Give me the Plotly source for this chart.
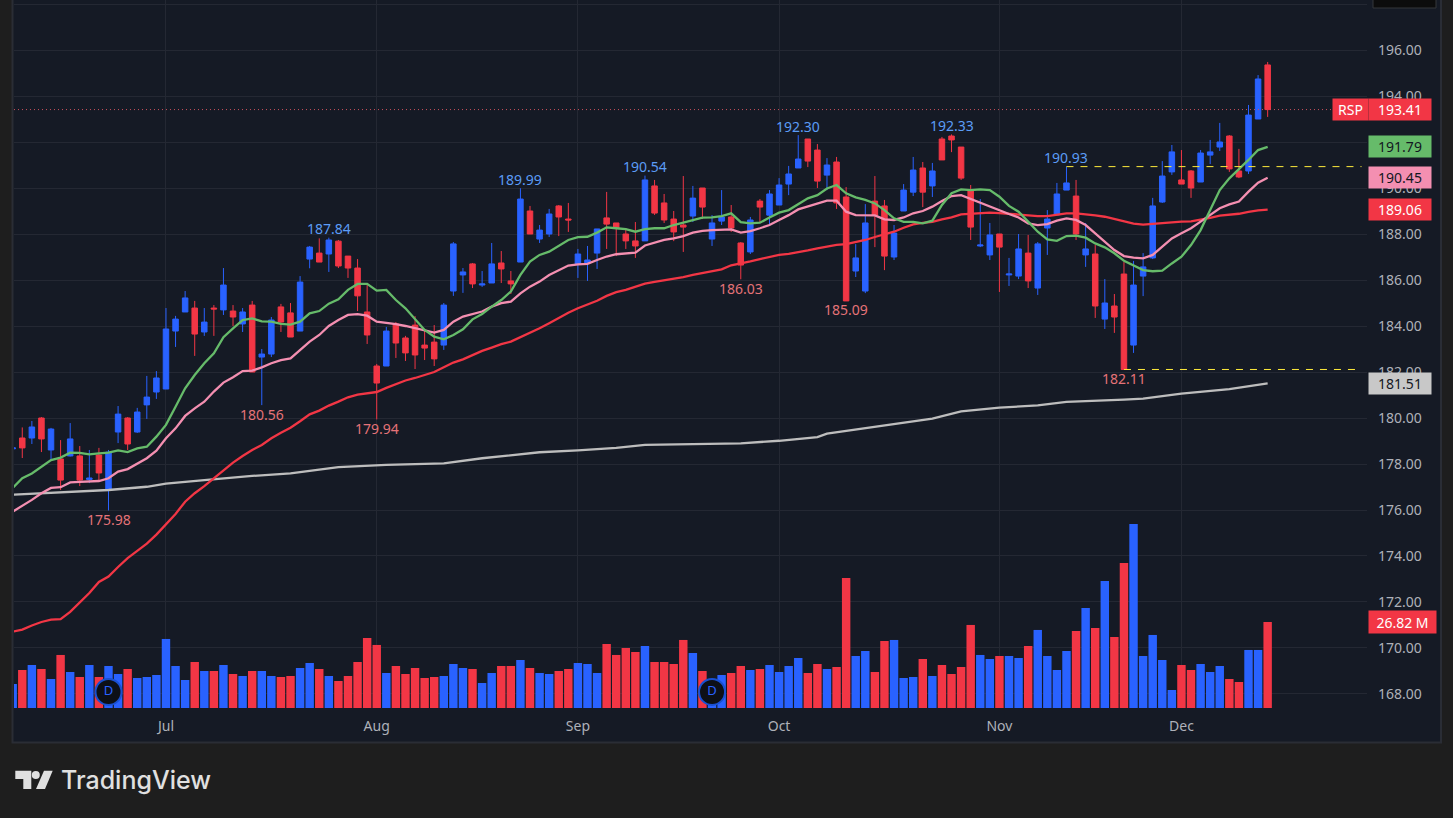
import plotly.graph_objects as go

# RSP daily bars
opens = [178.66,179.13,179.13,180.00,178.61,178.22,178.35,178.35,177.33,178.39,
176.91,179.39,180.00,179.39,180.57,181.13,181.26,183.78,184.61,184.78,
183.74,184.78,184.70,184.65,184.09,184.91,182.65,182.78,184.83,184.57,
183.78,186.91,187.17,187.13,187.69,187.04,186.52,184.61,182.26,182.26,
184.09,183.48,184.04,183.17,183.30,183.17,185.52,186.22,186.70,185.78,
185.87,186.74,185.96,186.78,189.00,187.78,188.00,189.22,188.65,186.70,
186.74,187.17,188.70,188.48,188.00,187.70,187.70,190.09,189.35,188.65,
188.39,188.78,190.00,187.78,188.56,188.74,187.61,187.22,189.43,188.82,
189.26,190.17,190.87,192.13,191.65,190.56,191.13,189.61,186.39,185.52,
189.43,189.22,187.00,189.00,189.82,190.87,190.09,192.13,192.26,191.78,
189.87,187.48,187.09,188.00,186.22,186.17,187.17,185.65,188.26,188.83,
189.91,189.65,187.09,187.13,184.30,184.87,186.26,183.17,186.17,186.96,
189.39,190.70,190.35,190.74,190.26,191.43,191.78,192.26,190.74,190.74,
193.00,195.35]
closes = [178.70,178.70,179.61,179.09,179.52,177.30,179.09,177.30,177.39,177.61,
178.52,180.17,178.87,180.26,180.91,181.74,183.87,184.30,185.22,183.65,
184.17,184.74,185.78,184.39,184.61,182.00,182.78,184.26,184.17,183.52,
185.91,187.43,186.78,187.74,186.61,186.52,185.31,183.61,181.52,183.78,
183.26,182.83,182.74,183.04,182.57,184.91,187.57,186.35,185.83,185.83,
186.70,186.48,185.83,189.52,188.00,188.17,188.87,188.74,188.61,187.13,
186.87,188.22,188.43,188.26,187.70,187.48,190.35,188.91,188.61,188.09,
188.30,189.56,189.17,188.48,188.74,188.26,186.65,188.61,189.17,189.74,
190.13,190.61,191.26,191.17,190.30,191.00,189.35,185.09,186.96,188.48,
188.82,187.04,188.04,189.91,190.78,189.82,190.74,191.22,192.09,190.43,
188.30,187.52,187.96,187.43,186.26,187.35,185.96,187.57,188.65,189.74,
190.22,188.00,187.35,184.87,185.00,184.39,182.11,185.78,186.57,189.22,
190.52,191.57,190.17,190.00,191.52,191.57,192.00,190.83,190.48,193.17,
194.74,193.41]
highs = [178.90,179.59,179.87,180.04,179.57,179.04,179.78,178.78,178.61,178.70,
178.61,180.52,180.04,180.44,181.83,182.04,184.78,184.44,185.52,185.09,
184.78,184.91,186.52,184.91,184.78,185.09,183.00,184.39,184.96,185.00,
186.17,187.48,187.81,187.84,187.74,187.04,186.91,185.83,182.35,183.96,
184.17,183.57,184.43,183.87,184.04,185.00,187.65,186.52,186.74,186.39,
187.61,187.26,186.39,189.99,189.22,188.39,189.09,189.26,189.35,187.35,
187.48,188.22,189.83,188.48,188.26,188.52,190.54,190.35,189.74,189.00,
190.52,190.09,190.00,188.82,189.91,189.26,187.65,188.74,189.52,189.91,
190.43,190.96,192.30,192.13,191.91,191.30,191.35,190.04,187.56,189.30,
190.52,189.48,188.39,190.17,191.35,191.13,191.09,192.22,192.33,191.78,
190.13,189.52,188.48,188.00,186.96,188.00,187.96,187.65,189.04,190.22,
190.93,190.35,188.48,187.52,186.04,185.39,186.78,186.83,187.17,189.57,
191.17,191.87,191.65,190.78,191.65,192.09,192.83,192.30,191.70,193.61,
194.91,195.48]
lows = [178.50,178.26,178.87,178.52,178.17,176.87,178.33,177.04,177.17,177.22,
175.98,178.91,178.61,179.35,179.96,180.83,181.26,183.09,184.61,182.70,
183.57,183.57,184.48,184.00,183.74,182.00,180.56,182.65,183.74,183.52,
183.78,186.51,186.78,186.35,186.52,186.09,184.65,183.22,179.94,182.26,
182.61,182.48,182.13,182.52,182.26,182.96,185.31,185.44,185.65,185.70,
185.87,185.87,185.39,186.78,188.00,187.61,187.87,187.91,188.09,186.09,
185.96,186.48,187.35,187.04,187.35,186.96,187.70,188.83,188.48,187.69,
187.22,188.52,188.65,187.48,188.39,188.09,186.03,187.13,188.48,188.35,
189.26,189.69,190.87,190.91,190.00,189.91,189.09,185.09,186.13,185.43,
187.43,186.43,186.87,189.00,189.65,189.17,189.61,191.22,191.56,190.35,
187.74,187.43,186.87,185.48,185.74,186.04,185.65,185.35,187.09,188.83,
189.91,187.74,186.57,184.35,183.87,183.70,182.11,182.83,185.30,186.91,
189.35,190.57,190.17,189.57,190.26,191.04,191.61,190.70,190.43,190.61,
193.00,193.09]
volumes = [7.49,11.86,13.42,12.17,9.05,16.54,11.23,9.67,13.42,9.67,
13.10,10.61,12.17,9.36,9.67,10.30,21.53,13.10,8.74,14.35,
11.54,11.54,13.42,10.61,9.98,11.54,11.54,9.98,9.67,9.98,
12.48,14.04,12.17,9.98,8.42,9.98,14.35,21.84,19.66,10.92,
13.10,10.61,12.48,9.36,9.67,9.98,13.73,12.48,12.17,7.80,
10.92,13.10,13.10,14.98,12.48,10.92,10.61,11.54,12.17,14.04,
13.73,10.92,19.97,16.54,18.72,17.47,19.34,14.35,14.35,13.73,
21.22,17.16,11.54,8.74,10.30,10.92,13.10,11.86,12.17,13.42,
11.23,13.10,15.60,10.92,13.73,12.17,12.79,40.56,16.22,17.78,
11.23,20.90,21.22,9.36,9.67,15.29,9.98,13.42,10.61,12.79,
25.90,16.54,15.29,16.22,16.22,15.60,19.34,24.34,16.22,11.86,
17.78,24.02,31.20,24.96,39.62,22.15,45.24,57.41,16.22,22.78,
14.98,5.62,13.42,11.86,13.73,11.23,13.10,9.05,8.11,18.10,
18.10,26.82]

# moving averages
ma_green = [176.96,177.38,177.59,177.88,178.17,178.28,178.49,178.48,178.42,178.46,
178.49,178.59,178.52,178.68,178.75,179.19,179.70,180.49,181.29,181.87,
182.38,182.81,183.51,183.90,184.26,184.33,184.20,184.19,184.09,184.06,
184.19,184.55,184.65,184.97,185.16,185.57,185.83,185.83,185.54,185.57,
185.13,184.77,184.29,183.83,183.54,183.42,183.61,183.86,184.29,184.52,
184.84,185.13,185.50,186.22,186.80,187.09,187.23,187.48,187.74,187.86,
187.88,188.06,188.29,188.25,188.21,188.10,188.21,188.25,188.25,188.39,
188.49,188.61,188.71,188.72,188.78,188.90,188.52,188.46,188.49,188.72,
188.93,189.04,189.30,189.55,189.69,189.98,190.13,189.77,189.59,189.48,
189.33,189.04,188.68,188.53,188.53,188.46,188.58,189.26,189.77,189.94,
189.91,189.94,189.91,189.62,189.22,188.97,188.54,188.10,187.77,187.70,
187.91,187.93,187.84,187.59,187.42,187.16,186.84,186.65,186.43,186.38,
186.41,186.72,187.01,187.52,188.17,189.04,189.91,190.42,190.81,191.22,
191.65,191.79]
ma_pink = [175.93,176.17,176.44,176.73,176.96,176.99,177.20,177.22,177.23,177.26,
177.38,177.67,177.78,178.03,178.25,178.58,179.12,179.55,180.09,180.42,
180.71,181.15,181.54,181.77,182.04,182.06,182.20,182.38,182.52,182.59,
182.96,183.32,183.61,184.00,184.26,184.48,184.52,184.45,184.19,184.15,
184.08,184.00,183.90,183.80,183.71,183.83,184.19,184.41,184.52,184.63,
184.84,184.99,185.06,185.42,185.71,185.93,186.22,186.44,186.63,186.68,
186.70,186.87,187.02,187.12,187.16,187.19,187.50,187.62,187.74,187.81,
187.91,188.06,188.14,188.17,188.20,188.20,188.06,188.13,188.25,188.39,
188.61,188.82,189.07,189.19,189.33,189.45,189.45,188.97,188.82,188.81,
188.81,188.64,188.61,188.72,188.90,189.00,189.19,189.43,189.65,189.69,
189.52,189.36,189.19,189.04,188.87,188.72,188.46,188.39,188.43,188.58,
188.68,188.61,188.39,188.03,187.67,187.30,187.04,186.97,186.94,187.09,
187.45,187.81,188.03,188.25,188.54,188.83,189.12,189.29,189.41,189.84,
190.23,190.45]
ma_red = [170.71,170.80,170.98,171.13,171.23,171.25,171.57,171.96,172.39,172.87,
173.11,173.52,173.91,174.22,174.54,174.93,175.39,175.83,176.36,176.73,
177.04,177.38,177.74,178.06,178.35,178.61,178.83,179.12,179.36,179.58,
179.86,180.16,180.32,180.54,180.71,180.90,181.02,181.08,181.13,181.31,
181.48,181.63,181.74,181.87,182.00,182.21,182.41,182.55,182.74,182.92,
183.06,183.21,183.32,183.51,183.71,183.90,184.12,184.35,184.58,184.77,
184.94,185.10,185.31,185.47,185.57,185.71,185.84,185.92,185.98,186.06,
186.13,186.22,186.29,186.38,186.46,186.64,186.71,186.81,186.91,187.00,
187.09,187.14,187.20,187.29,187.38,187.45,187.53,187.56,187.65,187.74,
187.87,187.98,188.10,188.27,188.42,188.48,188.53,188.64,188.72,188.85,
188.88,188.91,188.93,188.91,188.88,188.84,188.80,188.78,188.78,188.83,
188.90,188.90,188.87,188.81,188.75,188.65,188.52,188.45,188.41,188.45,
188.49,188.52,188.54,188.55,188.61,188.70,188.80,188.84,188.88,188.96,
189.03,189.06]
ma_gray_bars = [0,5,10,14,16,20,25,29,34,39,45,49,52,55,59,63,66,70,76,80,84,85,91,96,99,103,107,110,116,118,122,127,131]
ma_gray = [176.67,176.77,176.87,177.01,177.15,177.30,177.48,177.59,177.86,177.96,178.03,178.25,178.39,178.51,178.59,178.70,178.83,178.86,178.90,179.01,179.17,179.32,179.67,179.97,180.29,180.45,180.55,180.70,180.80,180.84,181.06,181.26,181.51]

# axis ticks
month_bars = [16, 38, 59, 80, 103, 122]
month_labels = ["Jul", "Aug", "Sep", "Oct", "Nov", "Dec"]
price_ticks = list(range(168, 200, 2))
price_labels = [f"{p}.00" if p < 198 else "" for p in price_ticks]

# swing labels on the chart
high_bars = [33, 53, 66, 82, 98, 110]
high_vals = [187.84, 189.99, 190.54, 192.30, 192.33, 190.93]
low_bars = [10, 26, 38, 76, 87, 116]
low_vals = [175.98, 180.56, 179.94, 186.03, 185.09, 182.11]

# yellow levels
level_bars = [110, 116]
level_vals = [190.93, 182.11]

# dividends
div_bars = [10, 73]
div_level = [5, 5]

last_price = 193.41

BLUE = "#2962ff"
RED = "#f23645"
GREEN = "#66bb6a"
PINK = "#f48fb1"
GRAY = "#bdbdbd"
PANE = "#151a25"
GRID = "#242833"
FONT = "Noto Sans"

# the plot box in page pixels, used for the frame and the tags
L, R, T, B = 14, 1367, 0, 708
def px(x):
    return (x - L) / (R - L)
def py(y):
    return (B - y) / (B - T)

bars = list(range(len(closes)))
vol_colors = [BLUE if c >= o else RED for o, c in zip(opens, closes)]

fig = go.Figure()

fig.add_trace(go.Bar(x=bars, y=volumes, marker=dict(color=vol_colors, line_width=0), width=0.88, yaxis="y2"))

fig.add_trace(go.Candlestick(x=bars, open=opens, high=highs, low=lows, close=closes, whiskerwidth=0,
    increasing=dict(line=dict(color=BLUE, width=1), fillcolor=BLUE),
    decreasing=dict(line=dict(color=RED, width=1), fillcolor=RED)))

for name, xs, ys, col in [("ma200", ma_gray_bars, ma_gray, GRAY), ("ma50", bars, ma_red, RED),
                          ("ma20", bars, ma_pink, PINK), ("ma10", bars, ma_green, GREEN)]:
    fig.add_trace(go.Scatter(x=xs, y=ys, name=name, mode="lines", line=dict(color=col, width=2.3)))

fig.add_trace(go.Scatter(x=div_bars, y=div_level, yaxis="y2", mode="markers+text", text=["D", "D"],
    textposition="middle center", textfont=dict(family=FONT, size=13, color=BLUE),
    marker=dict(size=26, color="#0d1017", line=dict(color="#1a50d0", width=2))))

shapes = []
# chart frame
shapes.append(dict(type="rect", xref="paper", yref="paper", layer="below", x0=px(12.5), x1=px(1441), y0=py(-5), y1=py(742.5),
                   fillcolor=PANE, line=dict(color="#2a2d35", width=2)))
# black button cut off at the top
shapes.append(dict(type="rect", xref="paper", yref="paper", x0=px(1373), x1=px(1436), y0=py(-6), y1=py(8),
                   fillcolor="#0c0c0c", line=dict(color="#34363b", width=1)))
# last price line
shapes.append(dict(type="line", xref="paper", yref="y", x0=0, x1=px(1333), y0=last_price, y1=last_price,
                   line=dict(color="#c9505c", width=1, dash="1px,3px")))
# high / low levels
for b, v in zip(level_bars, level_vals):
    shapes.append(dict(type="line", xref="x", yref="y", x0=b, x1=140.8, y0=v, y1=v,
                       line=dict(color="#ffeb3b", width=1, dash="7px,7px")))
# logo
def poly(points, col="#e0e0e0"):
    path = "M" + " L".join(f"{px(x)},{py(y)}" for x, y in points) + " Z"
    return dict(type="path", xref="paper", yref="paper", path=path, fillcolor=col, line_width=0)
shapes.append(poly([(15.3, 770.7), (31.3, 770.7), (31.3, 789), (23.3, 789), (23.3, 779), (15.3, 779)]))
shapes.append(poly([(44, 770.7), (52.7, 770.7), (45, 789), (36, 789)]))
shapes.append(dict(type="circle", xref="paper", yref="paper", x0=px(31.8), x1=px(39.8), y0=py(771), y1=py(779),
                   fillcolor="#e0e0e0", line_width=0))

annotations = []
for b, v in zip(high_bars, high_vals):
    annotations.append(dict(x=b, y=v, xref="x", yref="y", text=f"{v:.2f}", showarrow=False, yshift=9,
                            font=dict(family=FONT, size=14, color="#5b9cf6")))
for b, v in zip(low_bars, low_vals):
    annotations.append(dict(x=b, y=v, xref="x", yref="y", text=f"{v:.2f}", showarrow=False, yshift=-9,
                            font=dict(family=FONT, size=14, color="#e57378")))

tags = [("193.41", 193.41, RED, "white"), ("191.79", 191.79, GREEN, "#131722"),
        ("190.45", 190.45, PINK, "#131722"), ("189.06", 189.06, RED, "white"),
        ("181.51", 181.51, "#c8c8c8", "#131722")]
for txt, v, bg, fg in tags:
    annotations.append(dict(x=px(1400), y=v, xref="paper", yref="y", xanchor="center", yanchor="middle", text=txt,
                            showarrow=False, bgcolor=bg, width=62, height=21, borderpad=0,
                            font=dict(family=FONT, size=14, color=fg)))
annotations.append(dict(x=px(1350.5), y=last_price, xref="paper", yref="y", xanchor="center", yanchor="middle", text="RSP",
                        showarrow=False, bgcolor=RED, width=35, height=21, borderpad=0,
                        font=dict(family=FONT, size=14, color="white")))
annotations.append(dict(x=px(1402.5), y=volumes[-1], xref="paper", yref="y2", xanchor="center", yanchor="middle", text="26.82 M",
                        showarrow=False, bgcolor=RED, width=67, height=22, borderpad=0,
                        font=dict(family=FONT, size=14, color="white")))
annotations.append(dict(x=px(59), y=py(780), xref="paper", yref="paper", xanchor="left", yanchor="middle", text="TradingView",
                        showarrow=False, font=dict(family="Inter", size=25, color="#e0e0e0", weight=500)))

fig.update_layout(
    width=1453, height=818,
    margin=dict(l=L, r=1453 - R, t=T, b=818 - B),
    paper_bgcolor="#1e1e1e", plot_bgcolor=PANE,
    showlegend=False, boxgap=0.18,
    shapes=shapes, annotations=annotations,
    xaxis=dict(range=[0.136, 141.37], rangeslider=dict(visible=False), tickmode="array", tickvals=month_bars,
               ticktext=month_labels, showgrid=True, gridcolor=GRID, gridwidth=1, zeroline=False, showline=False,
               ticks="", ticklabelstandoff=8, tickfont=dict(family=FONT, size=14, color="#aeb1b9")),
    yaxis=dict(range=[167.391, 198.174], side="right", tickmode="array", tickvals=price_ticks, ticktext=price_labels,
               showgrid=True, gridcolor=GRID, gridwidth=1, zeroline=False, showline=False, ticks="",
               ticklabelstandoff=10, tickfont=dict(family=FONT, size=14, color="#aeb1b9")),
    yaxis2=dict(range=[0, 220.8], overlaying="y", visible=False),
    font=dict(family=FONT),
)

# the page's default body margin would push everything 8px in
fig.write_html("out.html", config=dict(displayModeBar=False),
               post_script="document.body.style.margin='0';document.body.style.background='#1e1e1e';")
